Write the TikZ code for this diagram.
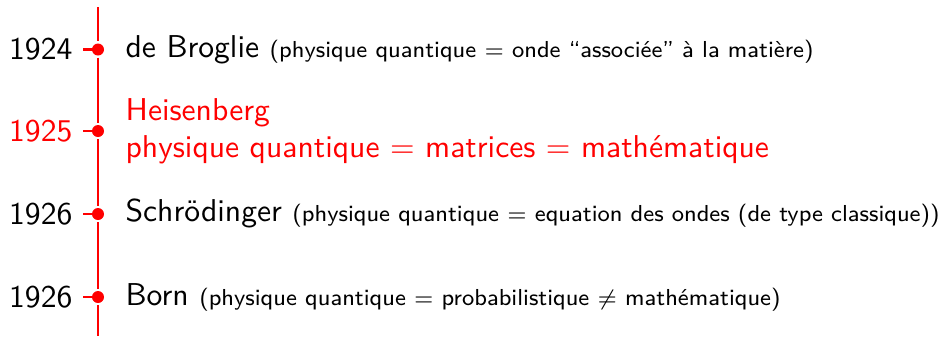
\documentclass[tikz,border=0pt]{standalone}
\usepackage{amssymb}
\begin{document}
\begin{tikzpicture}[x=0.3165pt,y=-0.3165pt,
  tl/.style={red,line width=2.8*0.3165pt},
  dot/.style={circle,fill=red,inner sep=0pt,minimum size=12*0.3165pt,outer sep=2.2*0.3165pt},
  year/.style={anchor=base east,inner xsep=10*0.3165pt,inner ysep=0pt,font=\sffamily\fontsize{10}{11.7}\selectfont},
  txt/.style={anchor=base west,inner sep=0pt,font=\sffamily\fontsize{10}{11.7}\selectfont,align=left}]
\useasboundingbox (0,0) rectangle (942,336);
\newcommand{\smtxt}{\fontsize{7.31}{8.5}\selectfont}
\coordinate (top) at (98,7);
\coordinate (bot) at (98,336);
\node[dot] (d1) at (98,49.5) {};
\node[dot] (d2) at (98,131) {};
\node[dot] (d3) at (98,214) {};
\node[dot] (d4) at (98,297) {};
\draw[tl] (top) -- (d1);
\draw[tl] (d1) -- (d2);
\draw[tl] (d2) -- (d3);
\draw[tl] (d3) -- (d4);
\draw[tl] (d4) -- (bot);
\node[year] (y1) at (83,59.5) {1924};
\node[year,red] (y2) at (83,141) {1925};
\node[year] (y3) at (83,224) {1926};
\node[year] (y4) at (83,307) {1926};
\draw[tl] (y1.east |- d1) -- (d1.center);
\draw[tl] (y2.east |- d2) -- (d2.center);
\draw[tl] (y3.east |- d3) -- (d3.center);
\draw[tl] (y4.east |- d4) -- (d4.center);
\node[txt] (t1) at (125,57) {de Broglie {\smtxt (physique quantique $=$ onde ``associée'' à la matière)}};
\node[txt,red,anchor=west] (t2) at (125,131) {Heisenberg\\physique quantique $=$ matrices $=$ mathématique};
\node[txt] (t3) at (125,221.5) {Schrödinger {\smtxt (physique quantique $=$ equation des ondes (de type classique))}};
\node[txt] (t4) at (125,305) {Born {\smtxt (physique quantique $=$ probabilistique $\neq$ mathématique)}};
\end{tikzpicture}
\end{document}
